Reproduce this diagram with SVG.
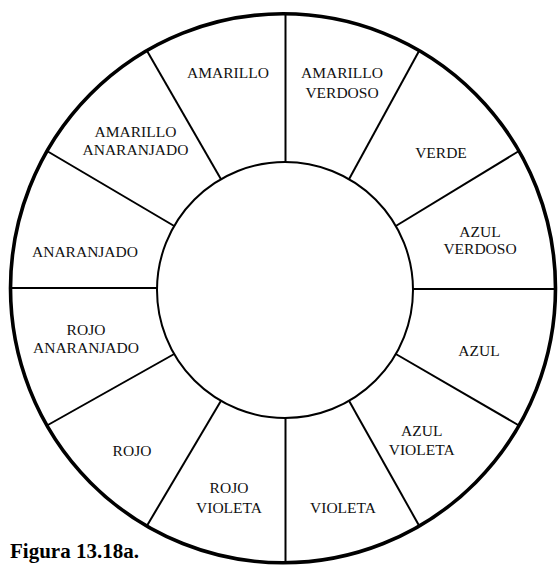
<svg xmlns="http://www.w3.org/2000/svg" width="558" height="566" viewBox="0 0 558 566">
  <style>
    .lbl { font-family: "Liberation Serif", "Times New Roman", serif; font-size: 15.5px; fill: #111; text-anchor: middle; }
    .cap { font-family: "Liberation Serif", "Times New Roman", serif; font-size: 21px; font-weight: bold; fill: #000; }
    .ring-out { fill: none; stroke: #000; stroke-width: 3.6; }
    .ring-in { fill: #fff; stroke: #000; stroke-width: 2; }
    .spoke { stroke: #000; stroke-width: 2; fill: none; }
  </style>
  <rect width="558" height="566" fill="#fff"/>

  <!-- outer rim of the colour wheel -->
  <g id="wheel">
    <ellipse class="ring-out" cx="283" cy="288.3" rx="272.5" ry="274.5"/>
  </g>

  <!-- twelve radial dividers between the hues -->
  <g id="connectors">
    <line class="spoke" x1="285.5" y1="162" x2="285.5" y2="14"/>
    <line class="spoke" x1="349" y1="179.2" x2="419.3" y2="50.6"/>
    <line class="spoke" x1="395.8" y1="226" x2="519" y2="151"/>
    <line class="spoke" x1="413" y1="289" x2="555.5" y2="289"/>
    <line class="spoke" x1="395.8" y1="354" x2="519" y2="425.5"/>
    <line class="spoke" x1="349" y1="400.8" x2="419.3" y2="526"/>
    <line class="spoke" x1="285.5" y1="418" x2="285.5" y2="562.8"/>
    <line class="spoke" x1="221" y1="400.8" x2="146.8" y2="526"/>
    <line class="spoke" x1="174.2" y1="354" x2="47" y2="425.5"/>
    <line class="spoke" x1="157" y1="288" x2="10.5" y2="288"/>
    <line class="spoke" x1="174.2" y1="226" x2="47" y2="151"/>
    <line class="spoke" x1="221" y1="179.2" x2="146.8" y2="50.6"/>
  </g>

  <!-- empty hub -->
  <g id="hub">
    <circle class="ring-in" cx="285" cy="290" r="128"/>
  </g>

  <!-- hue sectors -->
  <g id="amarillo"><text class="lbl" x="228" y="77.7">AMARILLO</text></g>
  <g id="amarillo-verdoso"><text class="lbl" x="342" y="77.7">AMARILLO</text><text class="lbl" x="342" y="97.7">VERDOSO</text></g>
  <g id="verde"><text class="lbl" x="441" y="157.7">VERDE</text></g>
  <g id="azul-verdoso"><text class="lbl" x="480" y="236.7">AZUL</text><text class="lbl" x="480" y="254">VERDOSO</text></g>
  <g id="azul"><text class="lbl" x="479" y="356">AZUL</text></g>
  <g id="azul-violeta"><text class="lbl" x="421.7" y="436">AZUL</text><text class="lbl" x="421.7" y="455">VIOLETA</text></g>
  <g id="violeta"><text class="lbl" x="343" y="513">VIOLETA</text></g>
  <g id="rojo-violeta"><text class="lbl" x="229" y="493">ROJO</text><text class="lbl" x="229" y="513">VIOLETA</text></g>
  <g id="rojo"><text class="lbl" x="132" y="456">ROJO</text></g>
  <g id="rojo-anaranjado"><text class="lbl" x="86" y="335">ROJO</text><text class="lbl" x="86" y="353">ANARANJADO</text></g>
  <g id="anaranjado"><text class="lbl" x="85" y="256.7">ANARANJADO</text></g>
  <g id="amarillo-anaranjado"><text class="lbl" x="135.5" y="136.7">AMARILLO</text><text class="lbl" x="135.5" y="155">ANARANJADO</text></g>

  <g id="caption"><text class="cap" x="10" y="558">Figura 13.18a.</text></g>
</svg>
